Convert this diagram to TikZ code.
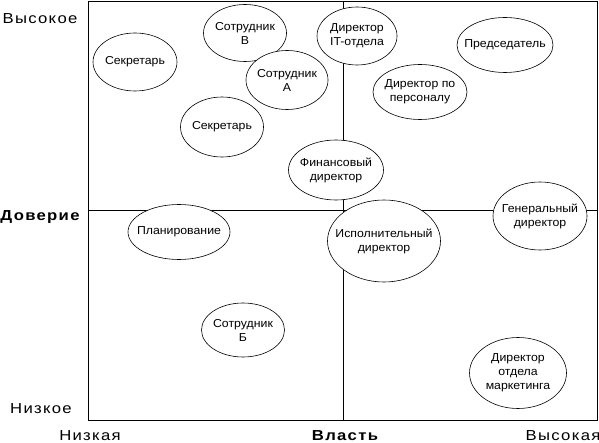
\documentclass[tikz,border=0pt]{standalone}
\usepackage{fontspec}
\setmainfont{Liberation Sans}
\newfontfamily\axisfont[FakeStretch=1.15, LetterSpace=9]{Liberation Sans}
\newfontfamily\roundfont[FakeStretch=1.07]{Liberation Sans}
\usetikzlibrary{shapes.geometric}
\tikzstyle{axis} = [line width=0.9pt]
\tikzstyle{ring} = [draw, line width=0.6pt, fill=white]
\tikzstyle{who} = [align=center, inner sep=0pt, font=\roundfont\fontsize{11.5}{14}\selectfont]
\tikzstyle{axislabel} = [anchor=base, inner sep=0pt, font=\axisfont\fontsize{14.5}{17}\selectfont]
\tikzstyle{axistitle} = [anchor=base, inner sep=0pt, font=\axisfont\fontsize{14.5}{17}\selectfont\bfseries]

\begin{document}
\begin{tikzpicture}[x=1pt, y=-1pt]
    \useasboundingbox (0,0) rectangle (599,443);
    % Frame and axes
    \coordinate (nw) at (88,1.5);
    \coordinate (se) at (597,420);
    \coordinate (top) at (343,1.5);
    \coordinate (bottom) at (343,420);
    \coordinate (left) at (88,210);
    \coordinate (right) at (597,210);
    \draw[axis] (nw) rectangle (se);
    \draw[axis] (top) -- (bottom);
    \draw[axis] (left) -- (right);

    % Scale labels
    \node[axislabel] (high) at (40,23.3) {Высокое};
    \node[axistitle] (trust) at (40,221) {Доверие};
    \node[axislabel] (low) at (41,413.3) {Низкое};
    \node[axislabel] (weak) at (90,440.5) {Низкая};
    \node[axistitle] (power) at (345,440.5) {Власть};
    \node[axislabel] (strong) at (563,440.5) {Высокая};

    % People
    \draw[ring] (135,62) ellipse [x radius=42, y radius=29] node[who] (secr1) {Секретарь};
    \draw[ring] (245,33) ellipse [x radius=41.5, y radius=28.5] node[who] (empb) {Сотрудник\\В};
    \draw[ring] (287,80) ellipse [x radius=41, y radius=29.5] node[who] (empa) {Сотрудник\\А};
    \draw[ring] (222,127) ellipse [x radius=41.5, y radius=30] node[who] (secr2) {Секретарь};
    \draw[ring] (336,170) ellipse [x radius=47.5, y radius=30] node[who] (cfo) {Финансовый\\директор};
    \draw[ring] (357,36) ellipse [x radius=40, y radius=29] node[who] (cio) {Директор\\IT-отдела};
    \draw[ring] (505,45) ellipse [x radius=48, y radius=27.5] node[who] (chair) {Председатель};
    \draw[ring] (420,92) ellipse [x radius=47, y radius=27.5] node[who] (hr) {Директор по\\персоналу};
    \draw[ring] (540,216) ellipse [x radius=47, y radius=34] node[who] (ceo) {Генеральный\\директор};
    \draw[ring] (384,241) ellipse [x radius=56.5, y radius=41] node[who] (coo) {Исполнительный\\директор};
    \draw[ring] (179,232) ellipse [x radius=51, y radius=27.5] node[who] (plan) {Планирование};
    \draw[ring] (243,330) ellipse [x radius=41.5, y radius=27] node[who] (empc) {Сотрудник\\Б};
    \draw[ring] (518,373) ellipse [x radius=48.5, y radius=35.5] node[who] (cmo) {Директор\\отдела\\маркетинга};

\end{tikzpicture}
\end{document}
